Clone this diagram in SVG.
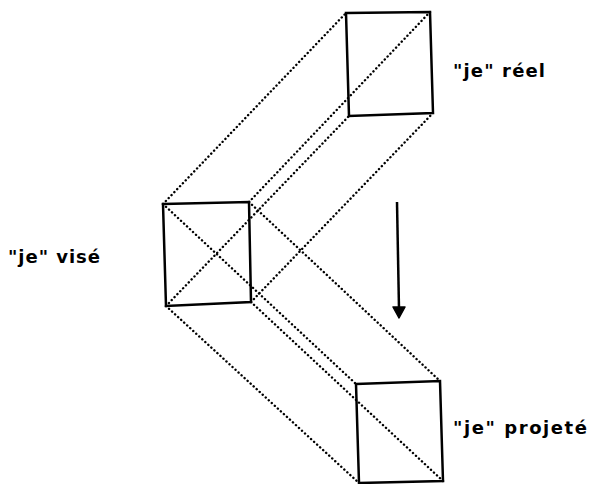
<svg xmlns="http://www.w3.org/2000/svg" width="591" height="484" viewBox="0 0 591 484">
<style>
.box{fill:none;stroke:#000;stroke-width:2.5;stroke-linejoin:miter}
.dot{fill:none;stroke:#000;stroke-width:2.4;stroke-dasharray:0.1 4;stroke-linecap:round}
.lbl{font-family:"DejaVu Sans",sans-serif;font-weight:bold;font-size:18px;fill:#000}
</style>
<rect width="591" height="484" fill="#fff"/>
<g id="connectors">
<line class="dot" x1="163" y1="204" x2="346" y2="13"/>
<line class="dot" x1="249" y1="202" x2="430" y2="12"/>
<line class="dot" x1="166" y1="306" x2="349" y2="116"/>
<line class="dot" x1="251" y1="302" x2="433" y2="113"/>
<line class="dot" x1="163" y1="204" x2="356" y2="384"/>
<line class="dot" x1="249" y1="202" x2="440" y2="381"/>
<line class="dot" x1="166" y1="306" x2="359" y2="483"/>
<line class="dot" x1="251" y1="302" x2="443" y2="481"/>
<line x1="397" y1="202" x2="399" y2="309" stroke="#000" stroke-width="2.5"/>
<polygon points="393,307 405,307 399,318" fill="#000" stroke="#000" stroke-width="1.5" stroke-linejoin="round"/>
</g>
<g id="je-reel">
<polygon class="box" points="346,13 430,12 433,113 349,116"/>
<text class="lbl" x="453" y="77" textLength="92" lengthAdjust="spacing">"je" réel</text>
</g>
<g id="je-vise">
<polygon class="box" points="163,204 249,202 251,302 166,306"/>
<text class="lbl" x="8" y="263" textLength="92" lengthAdjust="spacing">"je" visé</text>
</g>
<g id="je-projete">
<polygon class="box" points="356,384 440,381 443,481 359,483"/>
<text class="lbl" x="453" y="434" textLength="134" lengthAdjust="spacing">"je" projeté</text>
</g>
</svg>
